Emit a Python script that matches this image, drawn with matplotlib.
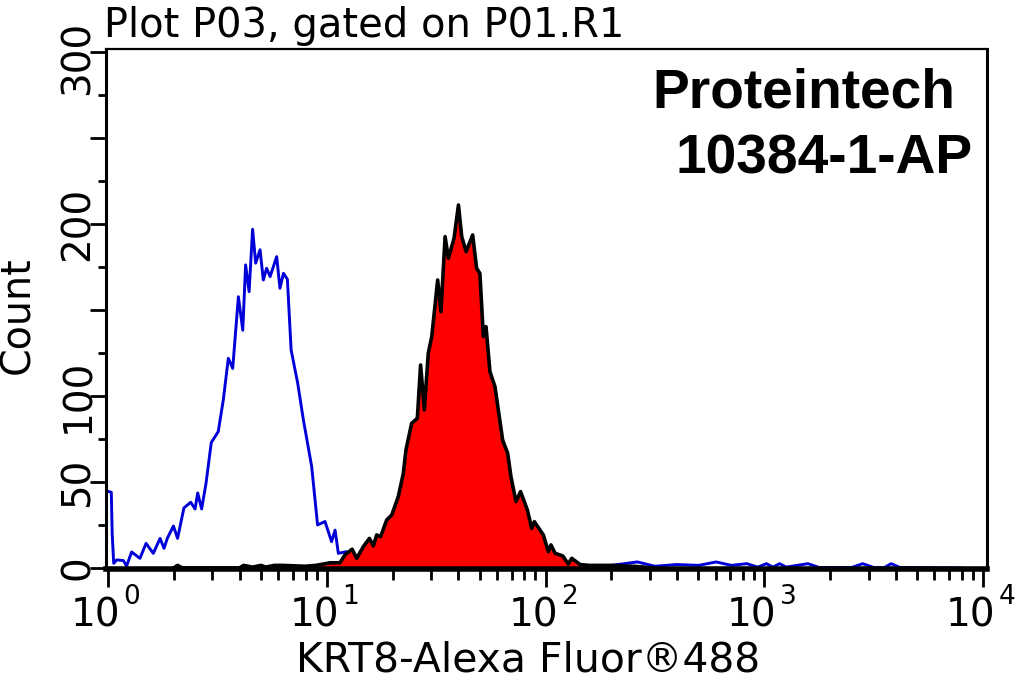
import matplotlib
matplotlib.use('Agg')
import matplotlib.pyplot as plt
from matplotlib.ticker import FixedLocator, NullFormatter
from matplotlib.transforms import ScaledTranslation
import numpy as np

# log10 of fluorescence and count
control_log = [0.004, 0.015, 0.019, 0.026, 0.040, 0.070, 0.085, 0.108, 0.146, 0.174, 0.207, 0.238,
               0.256, 0.271, 0.299, 0.318, 0.347, 0.378, 0.398, 0.410, 0.428, 0.448, 0.472, 0.504,
               0.527, 0.550, 0.570, 0.596, 0.616, 0.629, 0.645, 0.661, 0.675, 0.695, 0.710, 0.725,
               0.741, 0.771, 0.786, 0.802, 0.820, 0.837, 0.867, 0.893, 0.931, 0.958, 0.992, 1.022,
               1.038, 1.053, 1.091, 1.12, 1.3, 1.8, 2.2, 2.3, 2.42, 2.5, 2.6, 2.7, 2.78, 2.85,
               2.92, 2.97, 3.01, 3.04, 3.07, 3.1, 3.2, 3.25, 3.4, 3.45, 3.5, 3.55, 3.58, 3.62, 3.9]
control_count = [44.4, 44, 20, 2.7, 4.7, 4.3, 1.2, 9.3, 5.6, 14.3, 8.5, 17.2,
                 11.4, 17.2, 24.4, 17.2, 34.9, 38.2, 34.3, 43.6, 34.3, 49.2, 72.9, 79.3,
                 97.7, 121.9, 116, 157.7, 138.2, 176.2, 160.6, 196.9, 177.2, 185, 167.4, 174.2,
                 169.4, 181, 162.6, 171.3, 167.8, 126.8, 107.5, 86.2, 59, 25, 27, 15.3,
                 22, 8.5, 9.5, 1, 0.5, 0.5, 1, 1.5, 3.5, 1, 2, 1.5, 3.5, 1.5,
                 2.5, 0.5, 2.5, 0.5, 2.5, 0.5, 2.5, 0.3, 0.3, 2.5, 0.3, 0.3, 2.5, 0.3, 0]

krt8_log = [0.3, 0.318, 0.34, 0.6, 0.62, 0.66, 0.7, 0.72, 0.76, 0.8, 0.9, 0.95, 1.015, 1.06,
            1.083, 1.116, 1.137, 1.167, 1.195, 1.213, 1.228, 1.246, 1.274, 1.297, 1.327, 1.350,
            1.362, 1.388, 1.414, 1.429, 1.446, 1.464, 1.480, 1.507, 1.522, 1.541, 1.556, 1.582,
            1.602, 1.617, 1.637, 1.667, 1.685, 1.700, 1.716, 1.728, 1.746, 1.769, 1.804, 1.827,
            1.842, 1.865, 1.886, 1.917, 1.937, 1.949, 1.990, 2.013, 2.025, 2.044, 2.079, 2.104,
            2.12, 2.158, 2.2, 2.3, 2.4, 2.5]
krt8_count = [0, 1.5, 0, 0, 1.5, 0.5, 1.5, 0.5, 1.5, 1.5, 1, 1.5, 3, 3,
              7.6, 10.9, 5.6, 12.4, 17.2, 12.8, 19.2, 18.2, 27.9, 30.8, 41.5, 55,
              68.6, 84.1, 87, 118, 91.9, 124.8, 134.5, 167.4, 149, 192.6, 180, 191.7,
              211, 192.6, 183.9, 193.6, 174.2, 171.3, 134.5, 140.3, 114.1, 105.4, 74.4, 66.7,
              53.1, 38.6, 44.4, 33.7, 23, 26.9, 19.2, 9.5, 13.4, 8.5, 7, 2.3,
              5.6, 2, 1.5, 1.5, 1, 0]

count_major = [0, 50, 100, 150, 200, 250, 300]
count_minor = [25, 75, 125, 175, 225, 275]
count_labels = ['0', '50', '100', '', '200', '', '300']
fluor_major = [1, 10, 100, 1000, 10000]
fluor_labels = ['10', '10', '10', '10', '10']
fluor_powers = ['0', '1', '2', '3', '4']

W, H = 1015, 683
fig = plt.figure(figsize=(W / 100, H / 100), dpi=100, facecolor='white')
ax = fig.add_axes([106 / W, 1 - 569 / H, (987 - 106) / W, (569 - 49) / H])

ax.plot(10 ** np.array(control_log), control_count, color='#0000D8', lw=2.1, zorder=2)
ax.fill_between(10 ** np.array(krt8_log), 0, krt8_count, color='#FF0000', lw=0, zorder=3)
ax.plot(10 ** np.array(krt8_log), krt8_count, color='black', lw=2.6, zorder=4)

ax.set_xscale('log')
ax.set_xlim(0.979, 10430)
ax.set_ylim(-0.6, 301.7)

ax.xaxis.set_major_locator(FixedLocator(fluor_major))
ax.xaxis.set_minor_locator(FixedLocator([m * 10 ** p for p in range(4) for m in range(2, 10)]))
ax.xaxis.set_minor_formatter(NullFormatter())
ax.set_xticklabels([])
ax.set_yticks(count_major)
ax.set_yticks(count_minor, minor=True)
ax.set_yticklabels(count_labels, rotation=90, va='center', fontsize=28)

ax.tick_params(axis='x', which='major', length=13, width=2)
ax.tick_params(axis='x', which='minor', length=8, width=2)
ax.tick_params(axis='y', which='major', length=11.5, width=2, pad=-5)
ax.tick_params(axis='y', which='minor', length=6, width=2)

# the top label sits a little lower than its tick
top_label = ax.get_yticklabels()[-1]
top_label.set_transform(top_label.get_transform() + ScaledTranslation(0, -4 / 72, fig.dpi_scale_trans))

ax.spines['left'].set_linewidth(2.2)
ax.spines['right'].set_linewidth(2.2)
ax.spines['top'].set_linewidth(1.6)
ax.spines['bottom'].set_linewidth(4)
ax.spines['bottom'].set_zorder(5)

# exponents sit apart from the 10, so place both as separate texts
for pos, base, power in zip(fluor_major, fluor_labels, fluor_powers):
    ax.annotate(base, (pos, 0), xycoords=('data', 'axes fraction'), xytext=(-9, -20),
                textcoords='offset points', ha='center', va='top', fontsize=28)
    ax.annotate(power, (pos, 0), xycoords=('data', 'axes fraction'), xytext=(11, -11),
                textcoords='offset points', ha='left', va='top', fontsize=19)

fig.text(104 / W, 1 - 26 / H, 'Plot P03, gated on P01.R1', fontsize=28.8, va='center', ha='left')
fig.text(528 / W, 1 - 660 / H, 'KRT8-Alexa Fluor®488', fontsize=29.4, va='center', ha='center')
fig.text(18 / W, 1 - 315 / H, 'Count', fontsize=28.5, rotation=90, va='center', ha='center')

fig.text(955 / W, 1 - 93 / H, 'Proteintech', fontsize=39.7, fontweight='bold',
         family='Liberation Sans', va='center', ha='right')
fig.text(973 / W, 1 - 160 / H, '10384-1-AP', fontsize=39.7, fontweight='bold',
         family='Liberation Sans', va='center', ha='right')

fig.savefig('out.png', dpi=100)
